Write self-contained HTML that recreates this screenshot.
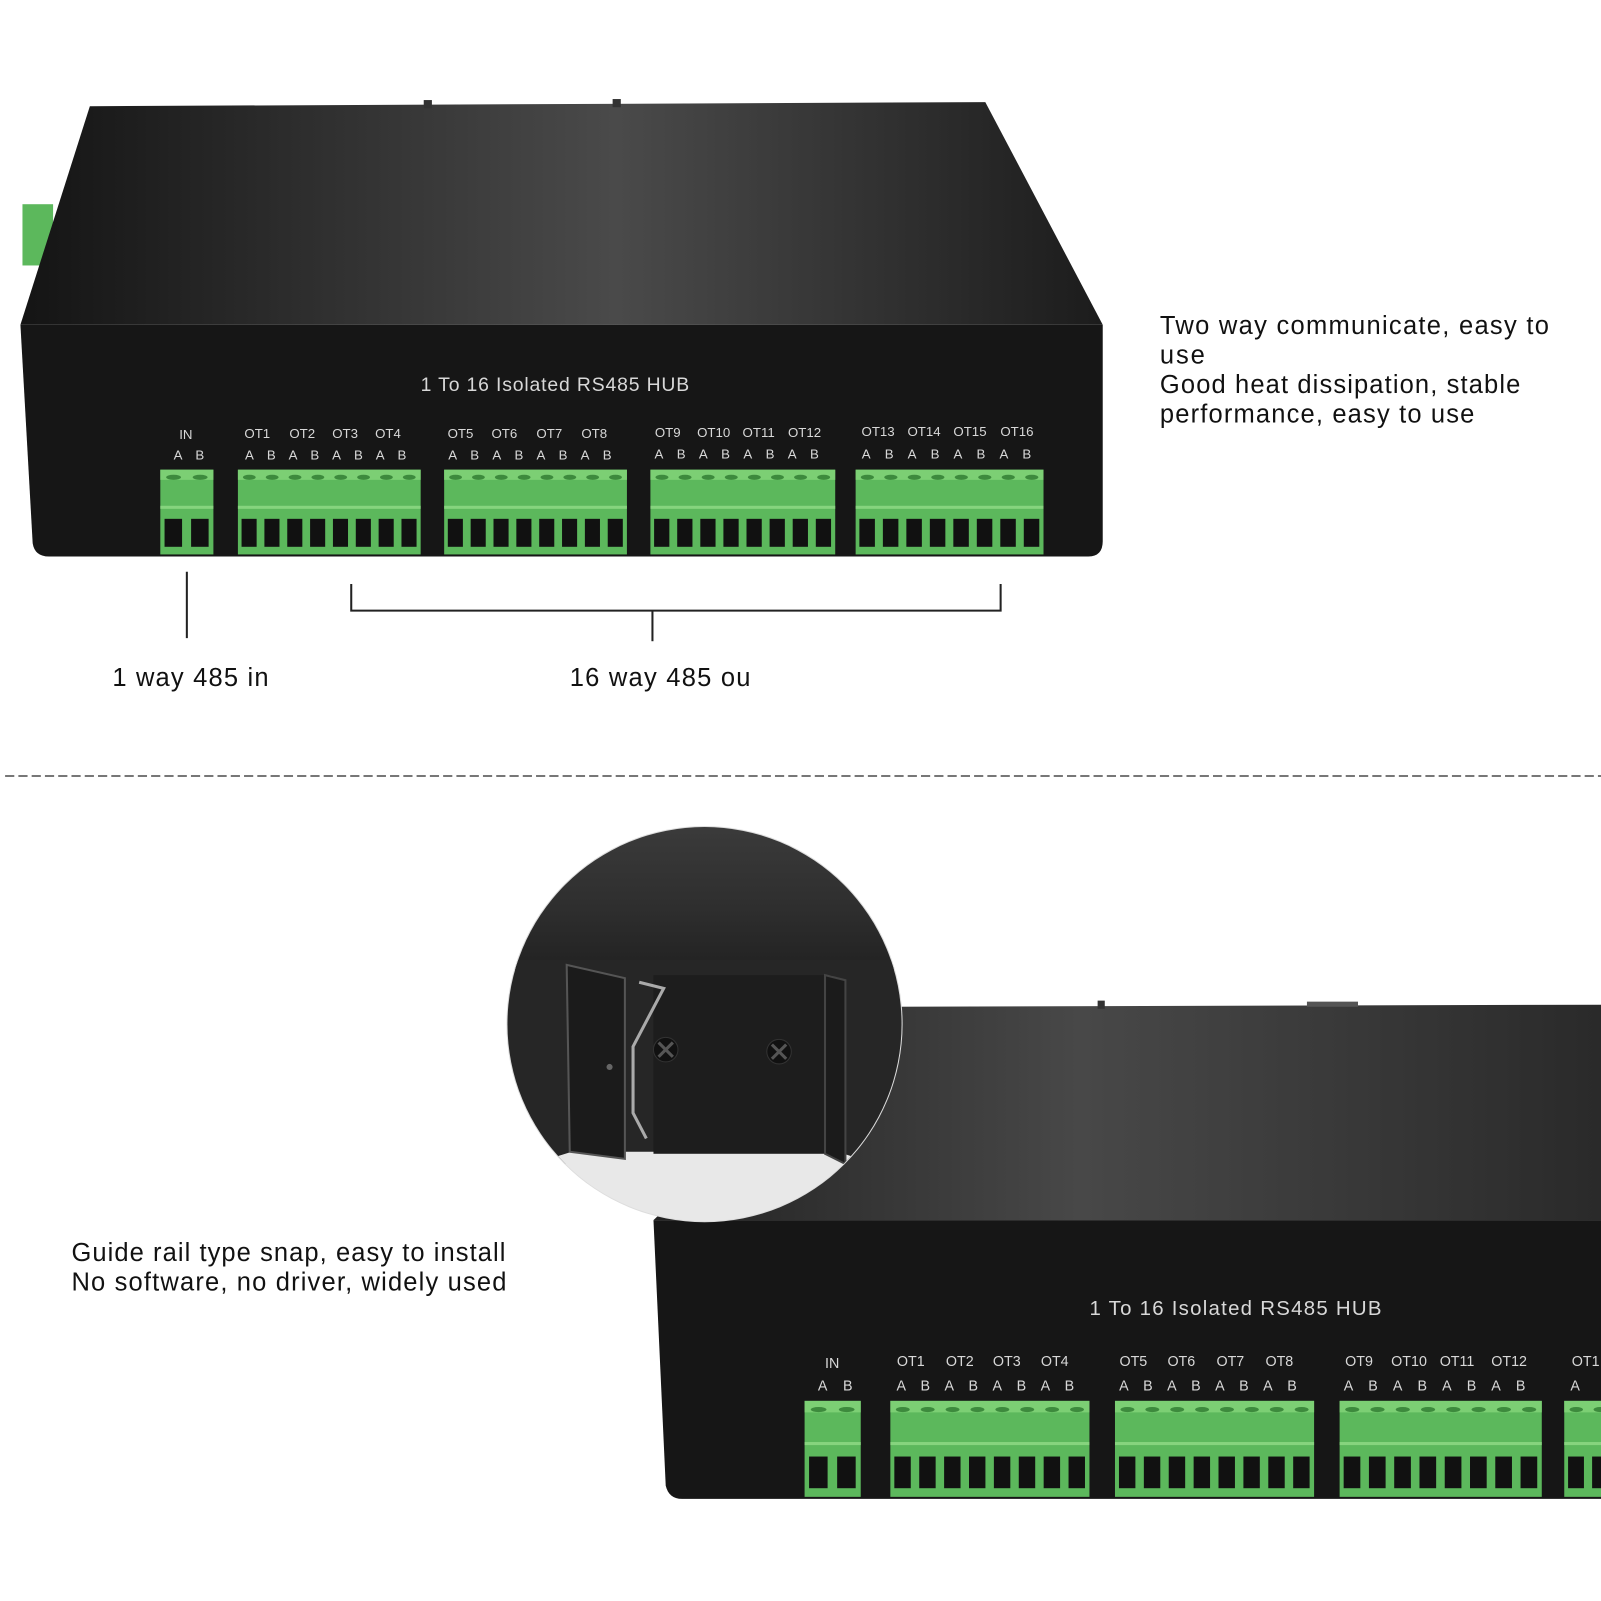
<!DOCTYPE html>
<html><head><meta charset="utf-8"><style>
html,body{margin:0;padding:0;background:#fff;}
svg{display:block}
.lbl{font-family:"Liberation Sans",sans-serif;fill:#111;font-size:25px}
.w{font-family:"Liberation Sans",sans-serif;fill:#d8d8d8}
</style></head><body>
<svg id="s" width="1601" height="1601" viewBox="0 0 1568 1568" xmlns="http://www.w3.org/2000/svg">
<defs>
<linearGradient id="tg" x1="0" y1="0" x2="1" y2="0">
<stop offset="0" stop-color="#141414"/><stop offset="0.55" stop-color="#4a4a4a"/><stop offset="1" stop-color="#1c1c1c"/></linearGradient>
<linearGradient id="tg2" x1="0" y1="0" x2="1" y2="0">
<stop offset="0" stop-color="#222"/><stop offset="0.45" stop-color="#484848"/><stop offset="1" stop-color="#2a2a2a"/></linearGradient>
<linearGradient id="cg" x1="0" y1="0" x2="0" y2="1">
<stop offset="0" stop-color="#3c3c3c"/><stop offset="0.6" stop-color="#2e2e2e"/><stop offset="1" stop-color="#222"/></linearGradient>
<clipPath id="cc"><circle cx="690" cy="1003" r="193"/></clipPath>
</defs>

<!-- TOP DEVICE -->
<rect x="22" y="200" width="30" height="60" fill="#5cb85c"/>
<polygon points="88,104 965,100 1080,318 20,318" fill="url(#tg)"/>
<rect x="415" y="98" width="8" height="8" fill="#333"/><rect x="600" y="97" width="8" height="8" fill="#333"/>
<path d="M20,318 H1080 V530 Q1080,545 1066,545 H48 Q34,545 32,532 Z" fill="#161616"/>
<text class="w" x="412" y="383" font-size="19" textLength="263">1 To 16 Isolated RS485 HUB</text>
<g class="w" font-size="13" text-anchor="middle">
<text x="182" y="430">IN</text>
<text x="252" y="429">OT1</text><text x="296" y="429">OT2</text><text x="338" y="429">OT3</text><text x="380" y="429">OT4</text>
<text x="451" y="429">OT5</text><text x="494" y="429">OT6</text><text x="538" y="429">OT7</text><text x="582" y="429">OT8</text>
<text x="654" y="428">OT9</text><text x="699" y="428">OT10</text><text x="743" y="428">OT11</text><text x="788" y="428">OT12</text>
<text x="860" y="427">OT13</text><text x="905" y="427">OT14</text><text x="950" y="427">OT15</text><text x="996" y="427">OT16</text>
</g>
<g class="w" font-size="13">
<text x="170" y="450" textLength="30">A B</text>
<text x="240" y="450" textLength="158">A B A B A B A B</text>
<text x="439" y="450" textLength="160">A B A B A B A B</text>
<text x="641" y="449" textLength="161">A B A B A B A B</text>
<text x="844" y="449" textLength="166">A B A B A B A B</text>
</g>
<g id="t1"></g>

<line x1="183" y1="560" x2="183" y2="625" stroke="#222" stroke-width="2"/>
<path d="M344,572 V598 H980 V572" fill="none" stroke="#222" stroke-width="2"/>
<line x1="639" y1="598" x2="639" y2="628" stroke="#222" stroke-width="2"/>
<text class="lbl" x="110" y="672" textLength="153">1 way 485 in</text>
<text class="lbl" x="558" y="672" textLength="177">16 way 485 ou</text>
<g class="lbl"><text x="1136" y="327" textLength="381">Two way communicate, easy to</text><text x="1136" y="356" textLength="44">use</text><text x="1136" y="385" textLength="353">Good heat dissipation, stable</text><text x="1136" y="414" textLength="308">performance, easy to use</text></g>

<line x1="5" y1="760" x2="1568" y2="760" stroke="#777" stroke-width="2" stroke-dasharray="9,4"/>

<!-- BOTTOM DEVICE -->
<polygon points="860,986 1568,984 1568,1195 640,1195" fill="url(#tg2)"/>
<rect x="1075" y="980" width="7" height="8" fill="#333"/><rect x="1280" y="981" width="50" height="5" fill="#555"/>
<path d="M640,1195 H1568 V1468 H668 Q655,1468 652,1455 Z" fill="#161616"/>
<text class="w" x="1067" y="1288" font-size="20" textLength="286">1 To 16 Isolated RS485 HUB</text>
<g class="w" font-size="14" text-anchor="middle">
<text x="815" y="1340">IN</text>
<text x="892" y="1338">OT1</text><text x="940" y="1338">OT2</text><text x="986" y="1338">OT3</text><text x="1033" y="1338">OT4</text>
<text x="1110" y="1338">OT5</text><text x="1157" y="1338">OT6</text><text x="1205" y="1338">OT7</text><text x="1253" y="1338">OT8</text>
<text x="1331" y="1338">OT9</text><text x="1380" y="1338">OT10</text><text x="1427" y="1338">OT11</text><text x="1478" y="1338">OT12</text>
<text x="1553" y="1338">OT1</text>
</g>
<g class="w" font-size="14">
<text x="801" y="1362" textLength="34">A B</text>
<text x="878" y="1362" textLength="174">A B A B A B A B</text>
<text x="1096" y="1362" textLength="174">A B A B A B A B</text>
<text x="1316" y="1362" textLength="178">A B A B A B A B</text>
<text x="1538" y="1362">A</text>
</g>
<g id="t2"></g>

<!-- circle inset -->
<circle cx="690" cy="1003" r="194" fill="#ddd"/>
<g clip-path="url(#cc)">
<rect x="490" y="800" width="400" height="150" fill="url(#cg)"/>
<rect x="490" y="940" width="400" height="200" fill="#262626"/>
<rect x="490" y="1140" width="400" height="70" fill="#e4e4e4"/>
<polygon points="490,1150 560,1128 820,1128 890,1150 890,1200 490,1200" fill="#e8e8e8"/>
<rect x="640" y="955" width="175" height="175" fill="#1d1d1d"/>
<polygon points="555,945 612,958 612,1135 558,1128" fill="#1b1b1b" stroke="#555" stroke-width="2"/>
<polygon points="808,955 828,960 828,1140 808,1130" fill="#1b1b1b" stroke="#444" stroke-width="2"/>
<path d="M626,962 L650,968 L620,1025 L620,1090 L633,1115" fill="none" stroke="#aaa" stroke-width="3"/>
<circle cx="652" cy="1028" r="12" fill="#111" stroke="#333"/><path d="M645,1021 l14,14 M659,1021 l-14,14" stroke="#555" stroke-width="3"/>
<circle cx="763" cy="1030" r="12" fill="#111" stroke="#333"/><path d="M756,1023 l14,14 M770,1023 l-14,14" stroke="#555" stroke-width="3"/>
<circle cx="597" cy="1045" r="3" fill="#666"/>
</g>

<g class="lbl"><text x="70" y="1235" textLength="425">Guide rail type snap, easy to install</text><text x="70" y="1264" textLength="426">No software, no driver, widely used</text></g>
</svg>
<script>
function blocks(gid, list, y0, y1){
  var g=document.getElementById(gid), h="";
  list.forEach(function(b){
    var x=b[0], w=b[1], n=b[2], p=w/n, hm=y0+(y1-y0)*0.45;
    h+='<rect x="'+x+'" y="'+y0+'" width="'+w+'" height="'+(y1-y0)+'" fill="#5cb85c"/>';
    h+='<rect x="'+x+'" y="'+y0+'" width="'+w+'" height="'+((y1-y0)*0.12)+'" fill="#7ccf74"/>';
    h+='<rect x="'+x+'" y="'+(hm-2)+'" width="'+w+'" height="3" fill="#86d47e"/>';
    for(var i=0;i<n;i++){
      var cx=x+p*i+p/2;
      h+='<ellipse cx="'+cx+'" cy="'+(y0+(y1-y0)*0.09)+'" rx="'+(p*0.28)+'" ry="2.5" fill="#3d8a3d"/>';
      h+='<rect x="'+(x+p*i+p*0.16)+'" y="'+(hm+(y1-y0)*0.13)+'" width="'+(p*0.66)+'" height="'+((y1-y0)*0.33)+'" fill="#111"/>';
    }
  });
  g.innerHTML=h;
}
blocks("t1",[[157,52,2],[233,179,8],[435,179,8],[637,181,8],[838,184,8]],460,543);
blocks("t2",[[788,55,2],[872,195,8],[1092,195,8],[1312,198,8],[1532,40,1.7]],1372,1466);
</script>
</body></html>
